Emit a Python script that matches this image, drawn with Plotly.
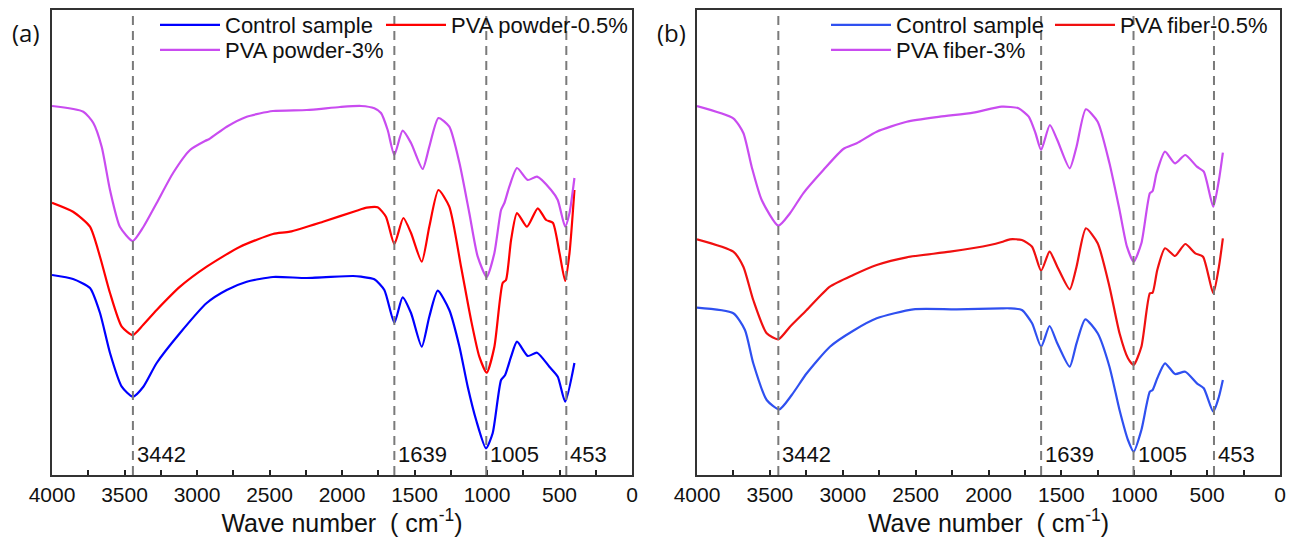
import plotly.graph_objects as go

# ---------------- data (wavenumber cm-1, transmittance a.u. offset) ----------------
PEAKS = [3442, 1639, 1005, 453]
PEAK_LABELS = ["3442", "1639", "1005", "453"]
X_TICKS = [4000, 3500, 3000, 2500, 2000, 1500, 1000, 500, 0]

A_CTRL_WN = [4000, 3855, 3738, 3669, 3600, 3519, 3443, 3370, 3278, 3117, 2933, 2795, 2657, 2476, 2243, 1924,
             1869, 1777, 1708, 1639, 1582, 1524, 1450, 1398, 1340, 1260, 1190, 1133, 1075, 1007, 961, 903, 875,
             834, 793, 719, 655, 570, 512, 461, 397]
A_CTRL_T = [200, 196, 187, 162, 122, 88.3, 78.3, 88.3, 112, 142, 172, 185, 193.3, 198, 197, 199,
            198.3, 195.7, 185, 152.3, 177.7, 162, 128.3, 158.3, 184.3, 165, 128.3, 88.3, 55, 26.7, 41.7, 95, 100,
            118.3, 133.3, 119, 122.3, 108.3, 98.3, 73.3, 112]

A_05_WN = [4000, 3855, 3738, 3669, 3600, 3519, 3443, 3372, 3278, 3117, 2933, 2703, 2476, 2359, 2131, 1899, 1830,
           1754, 1697, 1639, 1577, 1524, 1450, 1398, 1335, 1260, 1179, 1110, 1053, 1002, 949, 892, 869, 834, 793,
           724, 650, 592, 546, 500, 461, 431, 397]
A_05_T = [272.3, 263.3, 248.3, 218.3, 182, 148.3, 140, 150, 165, 188.3, 208.3, 228.3, 241, 243.3, 253.3, 264.3, 267.3,
          267.7, 258.3, 231, 257, 242, 213.3, 248.3, 285, 268.3, 208.3, 155, 118.3, 102.3, 128.3, 192, 195, 235, 262,
          248.3, 266.7, 255, 252.3, 222, 194, 222, 285]

A_3_WN = [4000, 3784, 3715, 3657, 3600, 3531, 3443, 3370, 3278, 3165, 3048, 2945, 2915, 2795, 2657, 2476, 2243, 2014,
          1869, 1777, 1731, 1685, 1639, 1582, 1524, 1444, 1398, 1335, 1260, 1190, 1122, 1064, 1002, 949, 903, 880,
          846, 793, 719, 655, 558, 512, 461, 431, 397]
A_3_T = [369, 363.3, 352, 328, 285, 248, 234, 248, 272, 302, 325, 334, 336, 348.3, 358.3, 364, 365, 368,
         369, 366.7, 362, 345, 320, 344.3, 332, 306, 328.3, 357, 348.3, 312, 262, 218.3, 198, 222, 265, 272,
         288.3, 307, 295, 298.3, 285, 275, 248.3, 262, 297]

B_CTRL_WN = [4000, 3751, 3671, 3614, 3522, 3435, 3350, 3247, 3088, 2928, 2767, 2516, 2218, 1909, 1853, 1771, 1701,
             1639, 1581, 1528, 1443, 1396, 1336, 1251, 1170, 1101, 1043, 1004, 951, 893, 874, 842, 789, 720, 650,
             570, 523, 458, 419, 392]
B_CTRL_T = [167.3, 161.7, 145, 111.7, 75, 65.7, 80, 101.7, 128.3, 144.3, 156.7, 165.7, 165.7, 166.7, 166.7, 165, 151.7,
            128.3, 149, 131.7, 108.3, 131.7, 155.7, 141.7, 108.3, 65, 35, 23.3, 45, 83.3, 85, 96.7, 111.7, 101, 103.3,
            91.7, 86.7, 63.3, 78.3, 95]

B_05_WN = [4000, 3751, 3682, 3614, 3522, 3442, 3362, 3247, 3088, 2928, 2767, 2561, 2264, 1990, 1909, 1853, 1771, 1701,
           1639, 1581, 1528, 1443, 1396, 1332, 1251, 1170, 1101, 1043, 1004, 951, 893, 874, 842, 789, 720, 650, 581,
           528, 458, 419, 392]
B_05_T = [235.7, 223.3, 208.3, 175, 141.7, 135.7, 148.3, 165, 188.3, 200, 210, 217.7, 223.3, 230, 233, 235.7, 235, 228.3,
          204.3, 223.3, 208.3, 185.7, 208.3, 246.7, 231.7, 188.3, 141.7, 116.7, 110, 128.3, 181.7, 182.3, 205, 226.7,
          219, 231, 221.7, 218.3, 181.7, 208.3, 236.7]

B_3_WN = [4000, 3751, 3682, 3625, 3556, 3442, 3362, 3271, 3133, 2996, 2904, 2767, 2561, 2333, 2104, 1909, 1794, 1724,
          1678, 1639, 1579, 1528, 1443, 1396, 1332, 1251, 1170, 1101, 1050, 1004, 951, 893, 874, 847, 789, 720, 650,
          570, 523, 458, 419, 392]
B_3_T = [369, 356.7, 342, 308.3, 275, 249.3, 261.7, 281.7, 305, 326, 331.7, 343.3, 353.3, 358.3, 362.3, 368.3, 366.7,
         358.3, 342, 325, 350, 335, 306.7, 328.3, 365.7, 353.3, 311.7, 265, 228.3, 213.3, 231.7, 281.7, 284, 301.7,
         323.3, 311.7, 320, 308.3, 303.3, 268.3, 295, 322.3]

NAMES_A = ["Control sample", "PVA powder-0.5%", "PVA powder-3%"]
NAMES_B = ["Control sample", "PVA fiber-0.5%", "PVA fiber-3%"]

COLORS_A = ["#0000FF", "#FF0000", "#C94CF0"]
COLORS_B = ["#2F50F0", "#F01010", "#C94CF0"]

W, H = 1289, 537
FONT = "Liberation Sans, Arial, sans-serif"

fig = go.Figure()

series_a = [(A_CTRL_WN, A_CTRL_T), (A_05_WN, A_05_T), (A_3_WN, A_3_T)]
series_b = [(B_CTRL_WN, B_CTRL_T), (B_05_WN, B_05_T), (B_3_WN, B_3_T)]

legend_ids_a = ["legend", "legend2", "legend3"]
legend_ids_b = ["legend4", "legend5", "legend6"]

for (wn, t), name, col, lg in zip(series_a, NAMES_A, COLORS_A, legend_ids_a):
    fig.add_trace(go.Scatter(x=wn, y=t, mode="lines", name=name, legend=lg,
                             line=dict(color=col, width=2.2, shape="spline", smoothing=0.6),
                             xaxis="x", yaxis="y"))
for (wn, t), name, col, lg in zip(series_b, NAMES_B, COLORS_B, legend_ids_b):
    fig.add_trace(go.Scatter(x=wn, y=t, mode="lines", name=name, legend=lg,
                             line=dict(color=col, width=2.2, shape="spline", smoothing=0.6),
                             xaxis="x2", yaxis="y2"))

# dashed reference lines + labels
shapes = []
annotations = []
for xr, yr in [("x", "y domain"), ("x2", "y2 domain")]:
    for p, lab in zip(PEAKS, PEAK_LABELS):
        shapes.append(dict(type="line", xref=xr, yref=yr, x0=p, x1=p, y0=0, y1=1,
                           line=dict(color="#7A7A7A", width=2, dash="9px,6px")))
        annotations.append(dict(xref=xr, yref=yr, x=p, y=0.045, text=lab, showarrow=False,
                                xanchor="left", yanchor="middle", xshift=2,
                                font=dict(family=FONT, size=22, color="#111111")))

annotations.append(dict(xref="paper", yref="paper", x=26 / W, y=1 - 33 / H, text="(a)", showarrow=False,
                        xanchor="center", yanchor="middle", font=dict(family="Open Sans, sans-serif", size=24, color="#111111")))
annotations.append(dict(xref="paper", yref="paper", x=671 / W, y=1 - 33 / H, text="(b)", showarrow=False,
                        xanchor="center", yanchor="middle", font=dict(family="Open Sans, sans-serif", size=24, color="#111111")))

xaxis_common = dict(range=[4000, 0], tickvals=X_TICKS, ticktext=[str(v) for v in X_TICKS],
                    ticks="inside", ticklen=5, tickwidth=1.5, tickcolor="#222222",
                    minor=dict(dtick=250, tick0=0, ticks="inside", ticklen=5, tickwidth=1.5, tickcolor="#222222"),
                    showline=True, linecolor="#333333", linewidth=1.8, mirror=True,
                    showgrid=False, zeroline=False, automargin=False,
                    tickfont=dict(family=FONT, size=21, color="#111111"),
                    title=dict(text="Wave number\u00a0\u00a0(\u00a0cm<sup>-1</sup>)", standoff=4,
                               font=dict(family=FONT, size=25, color="#111111")))
yaxis_common = dict(range=[0, 465], showticklabels=False, ticks="", showgrid=False, zeroline=False,
                    showline=True, linecolor="#333333", linewidth=1.8, mirror=True, automargin=False,
                    domain=[1 - 475 / H, 1 - 10 / H])

xa = dict(xaxis_common, domain=[52 / W, 632 / W], anchor="y")
xb = dict(xaxis_common, domain=[697 / W, 1280 / W], anchor="y2")
ya = dict(yaxis_common, anchor="x")
yb = dict(yaxis_common, anchor="x2")

leg_common = dict(orientation="h", bgcolor="rgba(0,0,0,0)", borderwidth=0,
                  font=dict(family=FONT, size=22, color="#111111"),
                  xanchor="left", yanchor="middle", itemwidth=60)

layout = dict(
    width=W, height=H, margin=dict(l=0, r=0, t=0, b=0, autoexpand=False),
    plot_bgcolor="white", paper_bgcolor="white",
    xaxis=xa, yaxis=ya, xaxis2=xb, yaxis2=yb,
    shapes=shapes, annotations=annotations, showlegend=True,
)
leg_pos = {
    "legend": (155, 25), "legend2": (381, 25), "legend3": (155, 50),
    "legend4": (826, 25), "legend5": (1050, 25), "legend6": (826, 50),
}
for k, (px, py) in leg_pos.items():
    layout[k] = dict(leg_common, x=px / W, y=1 - py / H)

fig.update_layout(**layout)
fig.write_html("out.html", config={"displayModeBar": False},
               post_script="document.body.style.margin='0';document.body.style.overflow='hidden';")
